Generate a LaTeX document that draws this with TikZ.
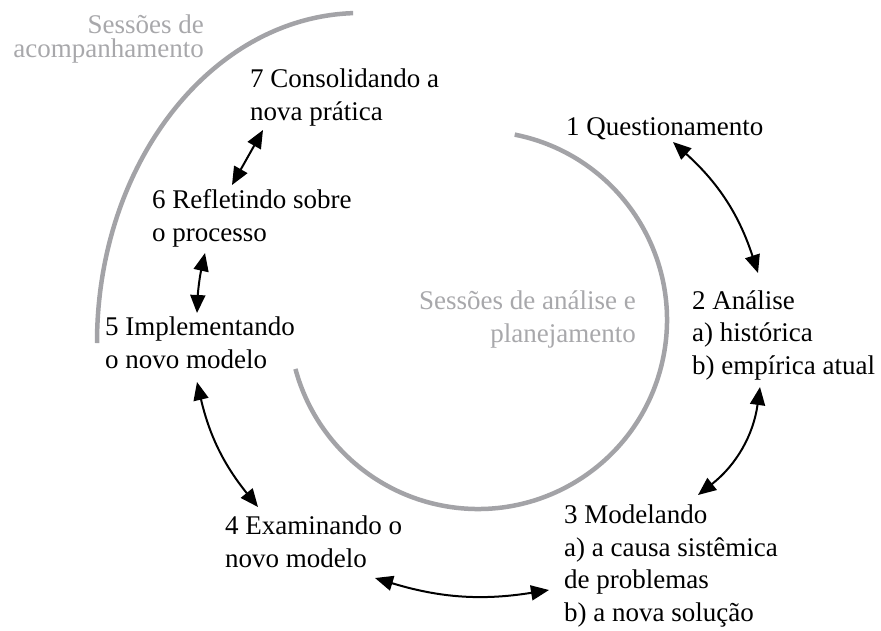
\documentclass[tikz,border=0pt]{standalone}
\usepackage{fontspec}
\setmainfont{Liberation Serif}
\usetikzlibrary{arrows.meta,calc}
\definecolor{arcgray}{RGB}{163,163,167}
\definecolor{labelgray}{RGB}{168,168,171}
\begin{document}
\begin{tikzpicture}[x=1pt,y=1pt,
  stage/.style={font=\fontsize{27}{32.5}\selectfont, align=left, anchor=base west, inner sep=0pt, text=black},
  session/.style={font=\fontsize{27}{32.5}\selectfont, align=right, anchor=base east, inner sep=0pt, text=labelgray},
  cyc/.style={line width=2pt, {Triangle[length=18pt,width=15pt]}-{Triangle[length=18pt,width=15pt]}},
  ring/.style={draw=arcgray, line width=4.5pt}]
\useasboundingbox (0,0) rectangle (881,-630);
% session rings
\coordinate (c1) at (478,-320);
\draw[ring] ($(c1)+(78.8:189)$) arc[start angle=78.8, end angle=-165, radius=189];
\coordinate (c2) at (360,-343);
\draw[ring] ($(c2)+(91.5:263 and 330)$) arc[start angle=91.5, end angle=180, x radius=263, y radius=330];
% session labels (anchored on the last line's baseline)
\node[session] (s1) at (636,-342) {Sessões de análise e\\planejamento};
\node[session, font=\fontsize{27}{24.5}\selectfont] (s2) at (204,-57.5) {Sessões de\\acompanhamento};
% stages (anchored on the last line's baseline)
\node[stage] (n1) at (566,-135) {1 Questionamento};
\node[stage] (n2) at (692,-374) {2 Análise\\a) histórica\\b) empírica atual};
\node[stage] (n3) at (564,-621) {3 Modelando\\a) a causa sistêmica\\de problemas\\b) a nova solução};
\node[stage] (n4) at (225,-567) {4 Examinando o\\novo modelo};
\node[stage] (n5) at (105,-368) {5 Implementando\\o novo modelo};
\node[stage] (n6) at (152,-241) {6 Refletindo sobre\\o processo};
\node[stage] (n7) at (250,-120) {7 Consolidando a\\nova prática};
% connectors
\draw[cyc] ($(n1.base west)+(107,-7)$) to[bend left=15] ($(n2.base west)+(66,101)$);
\draw[cyc] ($(n2.base west)+(68,-13)$) to[bend left=22] ($(n3.base west)+(134,126)$);
\draw[cyc] ($(n3.base west)+(-15,31)$) to[bend left=13] ($(n4.base west)+(150,-11)$);
\draw[cyc] ($(n4.base west)+(33,60)$) to[bend left=13] ($(n5.base west)+(92,-14)$);
\draw[cyc] ($(n5.base west)+(92,55)$) to[bend left=5] ($(n6.base west)+(53,-12)$);
\draw[cyc] ($(n6.base west)+(80,56)$) -- ($(n7.base west)+(13,-10)$);
\end{tikzpicture}
\end{document}
